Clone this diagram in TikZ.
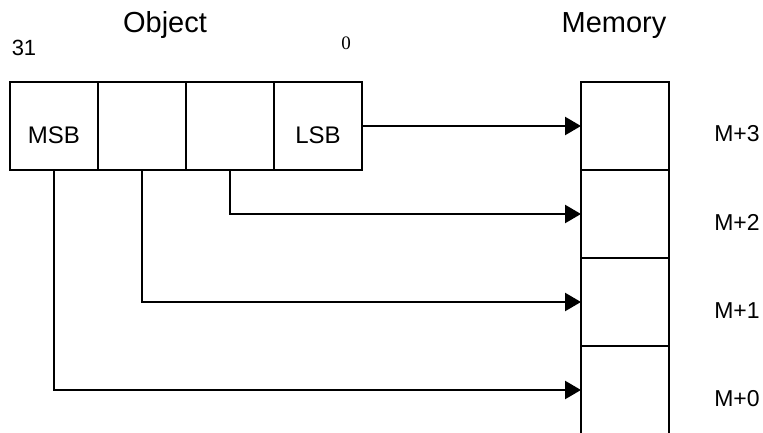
\documentclass[tikz,border=0pt]{standalone}
\usepackage{fontspec}
\setmainfont{Liberation Sans}
\newfontfamily\seriffont{Liberation Serif}
\usetikzlibrary{arrows.meta}
\begin{document}
\begin{tikzpicture}[x=1pt,y=-1pt,
  cell/.style={draw,line width=2.4pt,minimum width=88pt,minimum height=88pt,inner sep=0pt,outer sep=0pt},
  celltxt/.style={anchor=base,inner sep=0pt,font=\fontsize{24}{28}\selectfont},
  addr/.style={anchor=base,inner sep=0pt,font=\fontsize{23}{27}\selectfont},
  title/.style={anchor=base,inner sep=0pt,font=\fontsize{29}{34}\selectfont},
  conn/.style={line width=2.4pt,-{Triangle[length=16pt,width=18pt]}}]
\useasboundingbox (0,0) rectangle (763,433);
\begin{scope}
\clip (0,0) rectangle (763,433);
% object cells
\node[cell] (c0) at (54,126) {};
\node[cell] (c1) at (142,126) {};
\node[cell] (c2) at (230,126) {};
\node[cell] (c3) at (318,126) {};
% memory cells
\node[cell] (m3) at (625,126) {};
\node[cell] (m2) at (625,214) {};
\node[cell] (m1) at (625,302) {};
\node[cell] (m0) at (625,390) {};
\end{scope}
\node[celltxt] (msb) at ([yshift=-18pt]c0.center) {MSB};
\node[celltxt] (lsb) at ([yshift=-18pt]c3.center) {LSB};
\node[addr] (a3) at (737,142) {M+3};
\node[addr] (a2) at (737,230) {M+2};
\node[addr] (a1) at (737,318) {M+1};
\node[addr] (a0) at (737,406) {M+0};
\node[title] (obj) at (165,33) {Object};
\node[title] (mem) at (614,33) {Memory};
\node[anchor=base,inner sep=0pt,font=\fontsize{22}{26}\selectfont] (b31) at (24,56) {31};
\node[anchor=base,inner sep=0pt,font=\seriffont\fontsize{19}{22}\selectfont] (b0) at (346,50) {0};
% connectors
\draw[conn] (c3.east) -- (m3.west);
\draw[conn] (c2.south) |- (m2.west);
\draw[conn] (c1.south) |- (m1.west);
\draw[conn] (c0.south) |- (m0.west);
\end{tikzpicture}
\end{document}
